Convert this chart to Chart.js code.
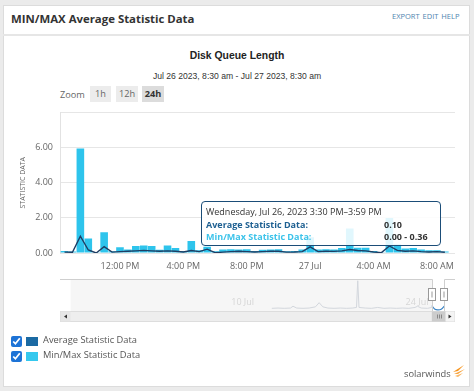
<!DOCTYPE html>
<html>
<head>
<meta charset="utf-8">
<script src="https://cdn.jsdelivr.net/npm/chart.js@4.4.0/dist/chart.umd.min.js"></script>
<style>
  body { margin: 0; width: 474px; height: 391px; background: #ebebeb; font-family: 'Open Sans', sans-serif; overflow: hidden; position: relative; }
  #panel { position: absolute; left: 3px; top: 5px; width: 465px; height: 380px; background: #fff; border: 1px solid #dcdcdc; }
  #sep { position: absolute; left: 3px; top: 34px; width: 467px; height: 2px; background: #e6e6e6; }
  .abs { position: absolute; white-space: nowrap; }
  #head { left: 11px; top: 11px; font-size: 11.4px; font-weight: 700; color: #333; }
  #links { left: 392px; top: 11px; font-size: 7.5px; color: #4f85b0; word-spacing: 1px; }
  #title { left: 0; width: 474px; text-align: center; top: 50px; font-family: 'Liberation Sans', Arial, sans-serif; font-size: 10.4px; font-weight: 700; color: #222; }
  #subtitle { left: 0; width: 474px; text-align: center; top: 71px; font-family: 'Liberation Sans', Arial, sans-serif; font-size: 8.6px; color: #333; }
  #zoomLbl { left: 60px; top: 88px; font-size: 9.2px; color: #666; }
  .btn { position: absolute; top: 86px; height: 16px; line-height: 16px; text-align: center; font-size: 9.2px; color: #666; background: #ececec; }
  .btn.on { background: #dcdcdc; color: #333; font-weight: 700; }
  canvas { position: absolute; left: 0; }
  #main { top: 100px; }
  #nav { top: 270px; }
  #tip { left: 201px; top: 201px; width: 238px; height: 43px; border: 1.5px solid #1b4d78; border-radius: 4px; background: rgba(255,255,255,0.86); font-size: 9px; color: #333; }
  #tip div { position: absolute; white-space: nowrap; }
  .chk { position: absolute; left: 11px; width: 11px; height: 11px; margin: 0; accent-color: #1d73d6; }
  .sw { position: absolute; left: 26px; width: 12px; height: 9px; }
  .lg { position: absolute; left: 43px; font-size: 9.3px; color: #555; }
  #brand { left: 404px; top: 367px; font-size: 9.3px; color: #555; }
</style>
</head>
<body>
<div id="panel"></div>
<div id="sep"></div>
<div class="abs" id="head">MIN/MAX Average Statistic Data</div>
<div class="abs" id="links">EXPORT EDIT HELP</div>
<div class="abs" id="title">Disk Queue Length</div>
<div class="abs" id="subtitle">Jul 26 2023, 8:30 am - Jul 27 2023, 8:30 am</div>
<div class="abs" id="zoomLbl">Zoom</div>
<div class="btn" style="left:90px;width:21px">1h</div>
<div class="btn" style="left:116px;width:22px">12h</div>
<div class="btn on" style="left:142px;width:22px">24h</div>

<canvas id="main" width="474" height="178"></canvas>
<canvas id="nav" width="474" height="60"></canvas>

<div class="abs" id="tip">
  <div style="left:4px;top:3px">Wednesday, Jul 26, 2023 3:30 PM–3:59 PM</div>
  <div style="left:4px;top:16px;font-weight:700;color:#1d5f91">Average Statistic Data:</div>
  <div style="left:182px;top:16px;font-weight:700">0.10</div>
  <div style="left:4px;top:28px;font-weight:700;color:#3cc3ea">Min/Max Statistic Data:</div>
  <div style="left:182px;top:28px;font-weight:700">0.00 - 0.36</div>
</div>

<input type="checkbox" class="chk" style="top:336px" checked>
<div class="sw" style="top:337px;background:#1b6aa3"></div>
<div class="lg" style="top:333px">Average Statistic Data</div>
<input type="checkbox" class="chk" style="top:351px" checked>
<div class="sw" style="top:352px;background:#35c8ee"></div>
<div class="lg" style="top:348px">Min/Max Statistic Data</div>

<div class="abs" id="brand">solarwinds</div>
<svg class="abs" style="left:452px;top:363px" width="14" height="16" viewBox="0 0 14 16">
  <path d="M1 9 L12 2 L6 8 Z" fill="#f7941d"/>
  <path d="M2 11 L13 6 L6 11 Z" fill="#f7a541"/>
  <path d="M3 13 L11 10 L6 14 Z" fill="#f9b766"/>
</svg>

<script>
// 30-minute buckets, hours since Jul 26 00:00
const bucketHours = [8.5, 9, 9.5, 10, 10.5, 11, 11.5, 12, 12.5, 13, 13.5, 14, 14.5, 15, 15.5, 16,
  16.5, 17, 17.5, 18, 18.5, 19, 19.5, 20, 20.5, 21, 21.5, 22, 22.5, 23, 23.5, 24,
  24.5, 25, 25.5, 26, 26.5, 27, 27.5, 28, 28.5, 29, 29.5, 30, 30.5, 31, 31.5, 32, 32.5];
const avgValues = [0.05, 0.04, 0.96, 0.17, 0.0, 0.36, 0.05, 0.08, 0.1, 0.12, 0.15, 0.12, 0.1, 0.12, 0.1, 0.06,
  0.14, 0.08, 0.22, 0.02, 0.05, 0.08, 0.1, 0.08, 0.06, 0.08, 0.1, 0.1, 0.05, 0.06, 0.08, 0.35,
  0.08, 0.1, 0.09, 0.12, 0.2, 0.14, 0.12, 0.06, 0.02, 0.4, 0.15, 0.1, 0.12, 0.08, 0.06, 0.08, 0.04];
const minValues = [0, 0, 0, 0, 0, 0, 0, 0, 0, 0, 0, 0, 0, 0, 0, 0,
  0, 0, 0, 0, 0, 0, 0, 0, 0, 0, 0, 0, 0, 0, 0, 0,
  0, 0, 0, 0, 0, 0, 0, 0, 0, 0, 0, 0, 0, 0, 0, 0, 0];
const maxValues = [0.12, 0.08, 5.95, 0.83, 0.02, 1.18, 0.1, 0.33, 0.2, 0.4, 0.42, 0.4, 0.18, 0.42, 0.28, 0.12,
  0.68, 0.15, 0.35, 0.1, 0.2, 0.22, 0.2, 0.22, 0.12, 0.18, 0.2, 0.22, 0.1, 0.12, 0.2, 0.9,
  0.2, 0.22, 0.2, 0.28, 1.4, 0.3, 0.3, 0.12, 0.04, 2.0, 0.5, 0.25, 0.28, 0.2, 0.15, 0.15, 0.08];
const xTickHours = [12, 16, 20, 24, 28, 32];
const xTickLabels = ['12:00 PM', '4:00 PM', '8:00 PM', '27 Jul', '4:00 AM', '8:00 AM'];
const yTicks = [0, 2, 4, 6, 8];

// navigator: days since Jun 30
const navDays = [13.5, 14, 14.5, 15, 15.2, 15.5, 16, 16.5, 17, 17.3, 17.6, 18, 18.5, 19, 19.5, 20,
  20.3, 20.4, 20.5, 21, 21.5, 22, 22.5, 23, 23.5, 24, 24.5, 25, 25.2, 25.5, 26, 26.35];
const navValues = [0.45, 0.5, 0.45, 0.5, 0.8, 0.5, 0.45, 0.5, 0.7, 1.4, 0.7, 0.5, 0.45, 0.5, 0.45, 0.5,
  0.6, 5.1, 0.6, 0.5, 0.45, 0.6, 0.45, 0.5, 0.45, 0.5, 0.45, 0.6, 0.8, 0.5, 0.45, 0.6];
const selDays = [26.35, 26.6, 26.85, 27.1, 27.35];
const selValues = [0.9, 0.3, 0.2, 0.3, 0.8];
const navTickDays = [10, 24];
const navTickLabels = ['10 Jul', '24 Jul'];
const navRange = [-2.65, 27.35];

const mainChart = new Chart(document.getElementById('main'), {
  type: 'bar',
  data: {
    datasets: [
      {
        type: 'line',
        label: 'Average Statistic Data',
        data: bucketHours.map((h, i) => ({ x: h, y: avgValues[i] })),
        borderColor: '#1f3d63',
        borderWidth: 1.4,
        pointRadius: 0,
        tension: 0,
        order: 0
      },
      {
        type: 'bar',
        label: 'Min/Max Statistic Data',
        data: bucketHours.map((h, i) => ({ x: h, y: [minValues[i], maxValues[i]] })),
        backgroundColor: '#2ec4ec',
        barPercentage: 0.96,
        categoryPercentage: 1,
        order: 1
      }
    ]
  },
  options: {
    responsive: false,
    animation: false,
    layout: { padding: { top: 12.5, right: 19, left: 0, bottom: 0 } },
    plugins: { legend: { display: false }, tooltip: { enabled: false } },
    scales: {
      x: {
        type: 'linear',
        min: 8.215,
        max: 33.14,
        offset: false,
        afterBuildTicks: s => { s.ticks = xTickHours.map(v => ({ value: v })); },
        afterFit: s => { s.height = 25; },
        ticks: {
          autoSkip: false,
          maxRotation: 0,
          padding: 8,
          color: '#666',
          font: { family: 'Open Sans', size: 9 },
          callback: v => xTickLabels[xTickHours.indexOf(v)]
        },
        grid: { display: false, drawTicks: false },
        border: { display: false }
      },
      y: {
        min: 0,
        max: 8,
        afterBuildTicks: s => { s.ticks = yTicks.map(v => ({ value: v })); },
        afterFit: s => { s.width = 60; },
        ticks: {
          padding: 7,
          color: '#666',
          font: { family: 'Open Sans', size: 9 },
          callback: v => v === 8 ? '' : v.toFixed(2)
        },
        grid: { color: '#e6e6e6', drawTicks: false },
        border: { color: '#e2e2e2' },
        title: {
          display: true,
          text: 'STATISTIC DATA',
          color: '#666',
          font: { family: 'Open Sans', size: 7 },
          padding: { top: 19, bottom: 0 }
        }
      }
    }
  }
});

// navigator mask, outline, handles, labels and scrollbar
const navDecor = {
  id: 'navDecor',
  beforeDatasetsDraw(chart) {
    const { ctx, chartArea: a, scales: { x } } = chart;
    const s0 = x.getPixelForValue(selDays[0]);
    ctx.save();
    ctx.fillStyle = '#f6f6f6';
    ctx.fillRect(a.left, a.top, s0 - a.left, a.bottom - a.top);
    ctx.fillStyle = '#d6d6d6';
    ctx.font = '9px "Open Sans"';
    ctx.textBaseline = 'middle';
    navTickDays.forEach((d, i) => {
      ctx.fillText(navTickLabels[i], x.getPixelForValue(d) + 3, a.bottom - 9);
    });
    ctx.restore();
  },
  afterDatasetsDraw(chart) {
    const { ctx, chartArea: a, scales: { x } } = chart;
    const s0 = x.getPixelForValue(selDays[0]);
    const s1 = x.getPixelForValue(selDays[selDays.length - 1]);
    const L = a.left - 10.7, R = a.right + 10.7;
    ctx.save();
    // outline
    ctx.strokeStyle = '#cfcfcf';
    ctx.lineWidth = 1;
    ctx.beginPath();
    ctx.moveTo(L, a.top + 0.5);
    ctx.lineTo(Math.round(s0) + 0.5, a.top + 0.5);
    ctx.lineTo(Math.round(s0) + 0.5, a.bottom);
    ctx.moveTo(Math.round(s1) + 0.5, a.bottom);
    ctx.lineTo(Math.round(s1) + 0.5, a.top + 0.5);
    ctx.lineTo(R, a.top + 0.5);
    ctx.stroke();
    // handles
    [s0, s1].forEach(px => {
      const hx = Math.round(px) - 3.5, hy = a.top + 9.5;
      ctx.fillStyle = '#fff';
      ctx.strokeStyle = '#999';
      ctx.fillRect(hx, hy, 7, 12);
      ctx.strokeRect(hx, hy, 7, 12);
      ctx.beginPath();
      ctx.moveTo(hx + 3.5, hy + 3);
      ctx.lineTo(hx + 3.5, hy + 9);
      ctx.stroke();
    });
    // scrollbar
    const sy = a.bottom, sh = 11;
    ctx.fillStyle = '#eeeeee';
    ctx.fillRect(L, sy, R - L, sh);
    ctx.strokeStyle = '#dddddd';
    ctx.strokeRect(L + 0.5, sy + 0.5, R - L - 1, sh - 1);
    ctx.fillStyle = '#cccccc';
    ctx.fillRect(s0, sy + 0.5, Math.max(s1 - s0, 12) + 2, sh - 1);
    ctx.strokeStyle = '#888';
    for (let k = -2; k <= 2; k += 2) {
      const gx = Math.round((s0 + s1) / 2 + 1 + k) + 0.5;
      ctx.beginPath();
      ctx.moveTo(gx, sy + 3.5);
      ctx.lineTo(gx, sy + 7.5);
      ctx.stroke();
    }
    ctx.fillStyle = '#e6e6e6';
    ctx.fillRect(L + 0.5, sy + 0.5, 10, sh - 1);
    ctx.fillStyle = '#f4f4f4';
    ctx.fillRect(R - 9.5, sy + 0.5, 9, sh - 1);
    ctx.fillStyle = '#333';
    ctx.beginPath();
    ctx.moveTo(L + 4, sy + 5.5); ctx.lineTo(L + 7, sy + 3.5); ctx.lineTo(L + 7, sy + 7.5); ctx.closePath();
    ctx.fill();
    ctx.beginPath();
    ctx.moveTo(R - 3.5, sy + 5.5); ctx.lineTo(R - 6.5, sy + 3.5); ctx.lineTo(R - 6.5, sy + 7.5); ctx.closePath();
    ctx.fill();
    ctx.restore();
  }
};

const navChart = new Chart(document.getElementById('nav'), {
  type: 'line',
  data: {
    datasets: [
      {
        data: navDays.map((d, i) => ({ x: d, y: navValues[i] })),
        borderColor: '#d3d7dd',
        borderWidth: 1,
        pointRadius: 0,
        tension: 0
      },
      {
        data: selDays.map((d, i) => ({ x: d, y: selValues[i] })),
        borderColor: '#3d86c6',
        borderWidth: 1.2,
        pointRadius: 0,
        tension: 0.4
      }
    ]
  },
  options: {
    responsive: false,
    animation: false,
    layout: { padding: { left: 70.7, right: 29.7, top: 9, bottom: 19 } },
    plugins: { legend: { display: false }, tooltip: { enabled: false } },
    scales: {
      x: { type: 'linear', min: navRange[0], max: navRange[1], display: false },
      y: { min: 0, max: 5.4, display: false }
    }
  },
  plugins: [navDecor]
});
</script>
</body>
</html>
